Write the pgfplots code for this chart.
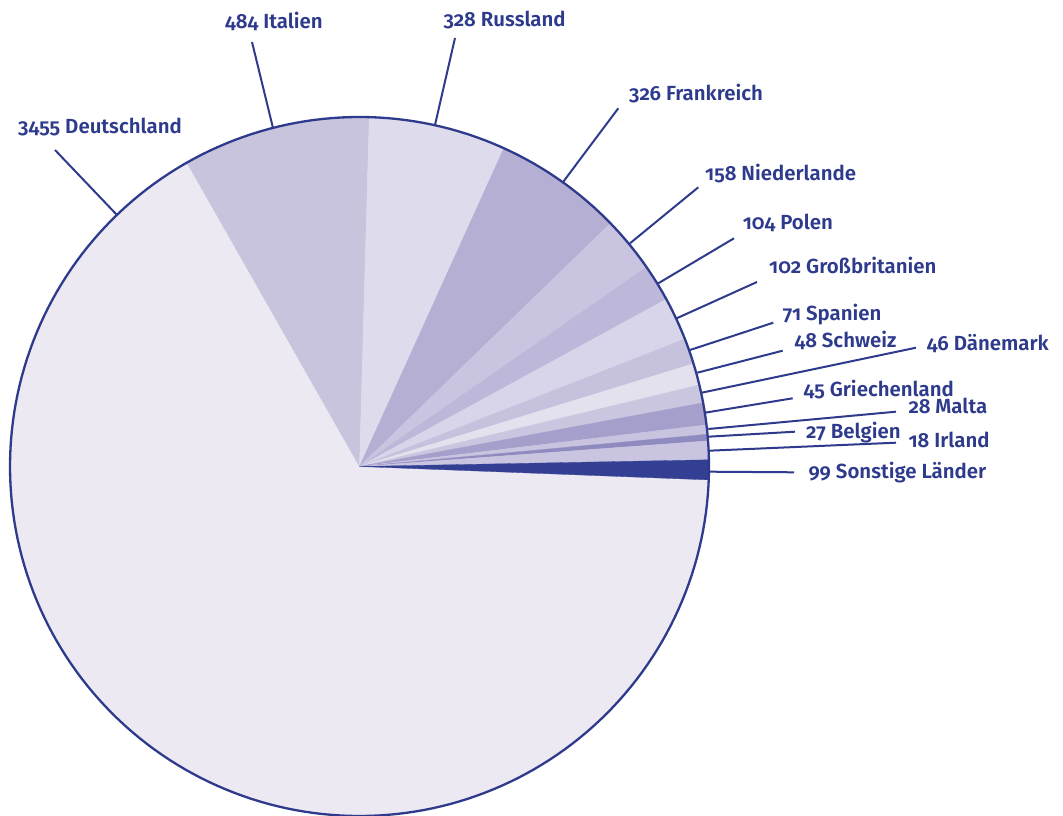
\documentclass[border=0pt]{standalone}
\usepackage{pgfplots}
\pgfplotsset{compat=1.18}
\usepackage{fontspec}
\setmainfont{Fira Sans}[UprightFont=* SemiBold, Numbers=OldStyle]
\definecolor{ink}{HTML}{2E3A8C}
\definecolor{cDE}{HTML}{ECE9F2}
\definecolor{cIT}{HTML}{C8C4DE}
\definecolor{cRU}{HTML}{DEDBEC}
\definecolor{cFR}{HTML}{B4AFD3}
\definecolor{cNL}{HTML}{C9C5E0}
\definecolor{cPL}{HTML}{BDB8D9}
\definecolor{cGB}{HTML}{D8D5EA}
\definecolor{cES}{HTML}{C6C2DE}
\definecolor{cCH}{HTML}{E4E1EF}
\definecolor{cDK}{HTML}{CAC6E0}
\definecolor{cGR}{HTML}{A49FCB}
\definecolor{cMT}{HTML}{C8C4DF}
\definecolor{cBE}{HTML}{8F8ABF}
\definecolor{cIE}{HTML}{C9C5E0}
\definecolor{cSO}{HTML}{333F93}
% wedge: start angle, end angle, colour (angles)
\newcommand\pie[4][60]{%
  \addplot[fill=#4, draw=#4, line width=0.3bp, domain=#2:#3, samples=#1, variable=\t]
    ({359.5+349.5*cos(\t)},{348.5+349.5*sin(\t)}) -- (axis cs:359.5,348.5) -- cycle;}
\newcommand\lead[6]{%
  \addplot[draw=ink, line width=2bp] coordinates {(#1,#2) (#3,#4)};
  \node[anchor=base west, inner sep=0pt, text=ink, font=\fontsize{20.5}{24}\selectfont] at (axis cs:#5,#6)}
\begin{document}
\begin{tikzpicture}
\begin{axis}[scale only axis, width=1063bp, height=815bp,
  xmin=0, xmax=1063, ymin=0, ymax=815, hide axis, clip=false]
% values: Deutschland 3455, Italien 484, Russland 328, Frankreich 326, Niederlande 158,
% Polen 104, Grossbritanien 102, Spanien 71, Schweiz 48, Daenemark 46, Griechenland 45,
% Malta 28, Belgien 27, Irland 18, Sonstige 99
\pie[160]{119.6}{357.8}{cDE}
\pie{88.4}{119.6}{cIT}
\pie{65.6}{88.4}{cRU}
\pie{44.1}{65.6}{cFR}
\pie{34.8}{44.1}{cNL}
\pie{28.6}{34.8}{cPL}
\pie{21.4}{28.6}{cGB}
\pie{17.1}{21.4}{cES}
\pie{13.5}{17.1}{cCH}
\pie{10.5}{13.5}{cDK}
\pie{6.85}{10.5}{cGR}
\pie{5.3}{6.85}{cMT}
\pie{4.2}{5.3}{cBE}
\pie{1.1}{4.2}{cIE}
\pie{-2.2}{1.1}{cSO}
\addplot[draw=ink, line width=2.3bp, domain=0:360, samples=241, variable=\t]
  ({359.5+349.5*cos(\t)},{348.5+349.5*sin(\t)});
\lead{117}{600}{55}{665}{18}{681}{3455 Deutschland};
\lead{273}{687}{252}{773}{225}{786.7}{484 Italien};
\lead{435}{690}{455}{777}{443.3}{788.3}{328 Russland};
\lead{563.3}{633.3}{618.3}{706.7}{629}{714.3}{326 Frankreich};
\lead{630}{571.7}{698.3}{627.7}{705}{634.3}{158 Niederlande};
\lead{658.3}{531.7}{734}{576.7}{742.7}{585}{104 Polen};
\lead{676.7}{496.7}{757}{533}{769}{541}{102 Großbritanien};
\lead{690}{465}{773.3}{492.3}{782.7}{494.3}{71 Spanien};
\lead{697.3}{442.3}{782.7}{464.3}{794.3}{467.7}{48 Schweiz};
\lead{701.7}{422.3}{916}{467.3}{926.7}{464}{46 Dänemark};
\lead{705}{402.3}{792.7}{416.7}{803.3}{418.3}{45 Griechenland};
\lead{708.3}{386}{896}{403.3}{908.3}{401.7}{28 Malta};
\lead{708.3}{378.3}{795}{383.3}{806}{376.7}{27 Belgien};
\lead{709.3}{364.3}{896}{372.3}{908.3}{367.3}{18 Irland};
\lead{709.3}{343.3}{794}{342.7}{808.3}{336.7}{99 Sonstige Länder};
\end{axis}
\pgfresetboundingbox
\useasboundingbox (current axis.south west) rectangle (current axis.north east);
\end{tikzpicture}
\end{document}
